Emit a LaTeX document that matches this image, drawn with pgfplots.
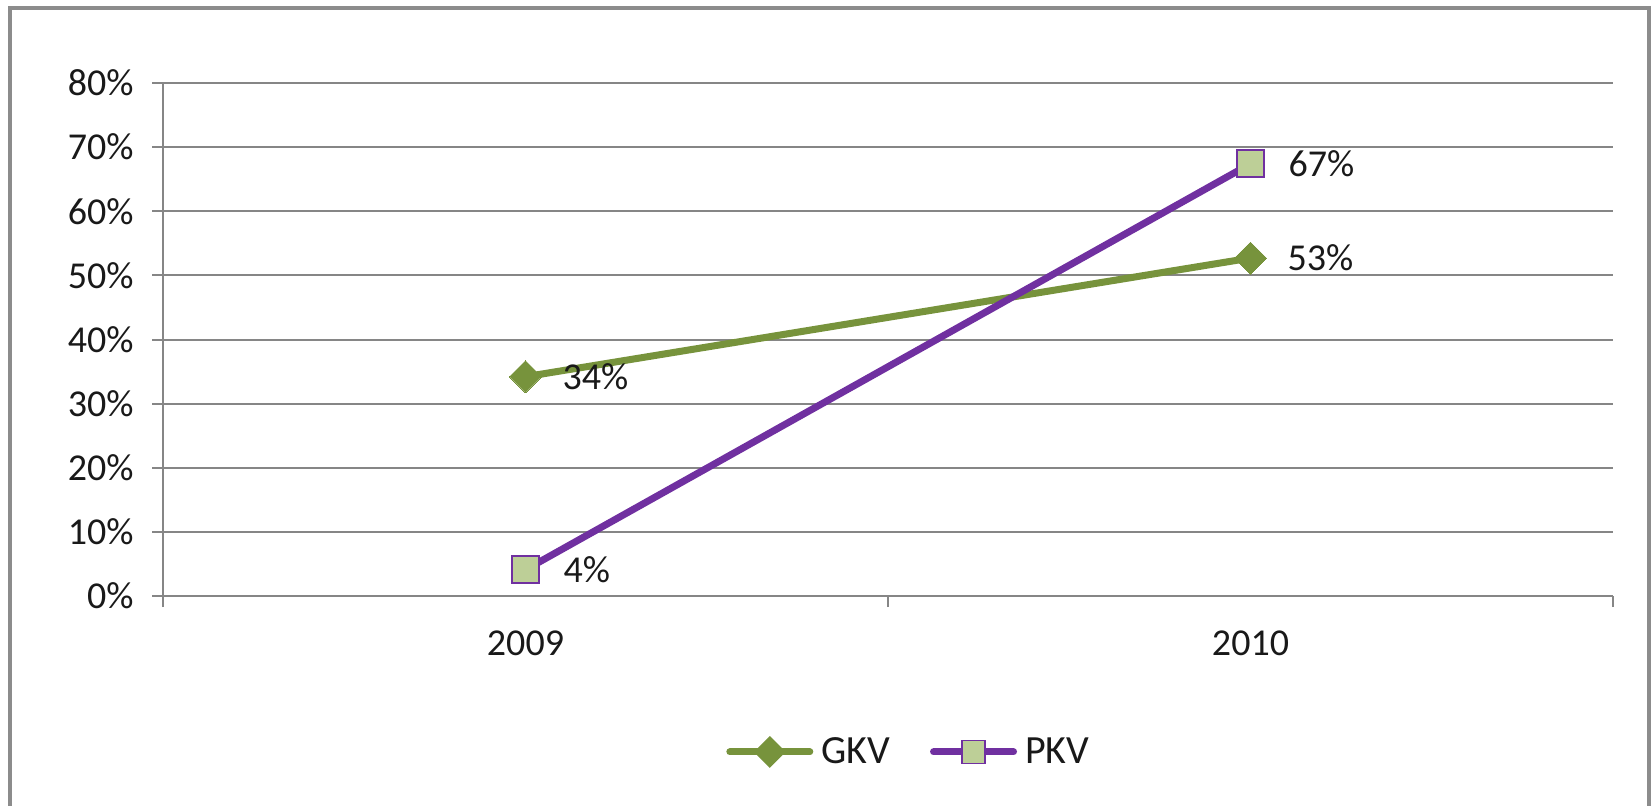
\documentclass[border=0pt]{standalone}
\usepackage{pgfplots}
\pgfplotsset{compat=1.18}
\usepackage{fontspec}
\setmainfont{Carlito}
\definecolor{gkv}{RGB}{119,147,60}
\definecolor{pkv}{RGB}{112,48,160}
\definecolor{pkvfill}{RGB}{189,207,151}
\definecolor{gridc}{RGB}{134,134,134}
\definecolor{framec}{RGB}{140,140,140}
\begin{document}
\begin{tikzpicture}[x=1pt,y=1pt]
\path[use as bounding box] (0,0) rectangle (825.5,402.5);
\draw[framec, line width=2pt] (5,-5) -- (5,398.3) -- (824.4,398.3) -- (824.4,-5);
\begin{axis}[
  at={(81.5pt,104.5pt)}, anchor=south west,
  scale only axis, width=725pt, height=256.5pt,
  xmin=-0.5, xmax=1.5, ymin=0, ymax=80,
  axis x line=bottom, axis y line=left,
  axis line style={-, gridc, line width=1pt},
  tick align=outside,
  major tick length=5.5pt,
  tick style={gridc, line width=1pt},
  xtick={-0.5,0.5,1.5}, xticklabels={},
  extra x ticks={0,1}, extra x tick labels={2009,2010},
  extra x tick style={major tick length=0pt, tick style={draw=none}},
  ytick={0,10,...,80},
  yticklabels={0\%,10\%,20\%,30\%,40\%,50\%,60\%,70\%,80\%},
  ymajorgrids, grid style={gridc, line width=1pt},
  every tick label/.append style={font=\fontsize{19}{23}\selectfont, text=black!90},
  yticklabel style={anchor=east, inner sep=0pt, xshift=-9pt},
  xticklabel style={anchor=north, inner sep=0pt, yshift=-17pt},
  clip=false,
  nodes near coords, point meta=explicit symbolic,
  every node near coord/.append style={anchor=west, inner sep=0pt, xshift=18.5pt, font=\fontsize{19}{23}\selectfont, text=black!90},
  legend columns=2,
  legend style={at={(0.515,-0.304)}, anchor=center, draw=none, fill=none,
    font=\fontsize{20}{24}\selectfont, text=black!90,
    /tikz/every even column/.append style={column sep=18pt},
    /tikz/every odd column/.append style={column sep=2pt}},
  legend cell align=left,
]
\addplot[gkv, line width=3.5pt, mark=square*, mark size=5.66pt,
  mark options={rotate=45, fill=gkv, draw=gkv, line width=0pt},
  legend image code/.code={
    \draw[gkv, line width=3.5pt, line cap=round] (0pt,0pt) -- (40pt,0pt);
    \fill[gkv] (20pt,-5.5pt) -- (25.5pt,0pt) -- (20pt,5.5pt) -- (14.5pt,0pt) -- cycle;
  }]
  coordinates {(0,34.2) [34\%] (1,52.7) [53\%]};
\addlegendentry{GKV}
\addplot[pkv, line width=3.5pt, mark=square*, mark size=6.75pt,
  mark options={fill=pkvfill, draw=pkv, line width=1pt},
  legend image code/.code={
    \draw[pkv, line width=3.5pt, line cap=round] (0pt,0pt) -- (40pt,0pt);
    \filldraw[fill=pkvfill, draw=pkv, line width=0.8pt] (14.25pt,-5.75pt) rectangle (25.75pt,5.75pt);
  }]
  coordinates {(0,4.1) [4\%] (1,67.4) [67\%]};
\addlegendentry{PKV}
\end{axis}
\end{tikzpicture}
\end{document}
